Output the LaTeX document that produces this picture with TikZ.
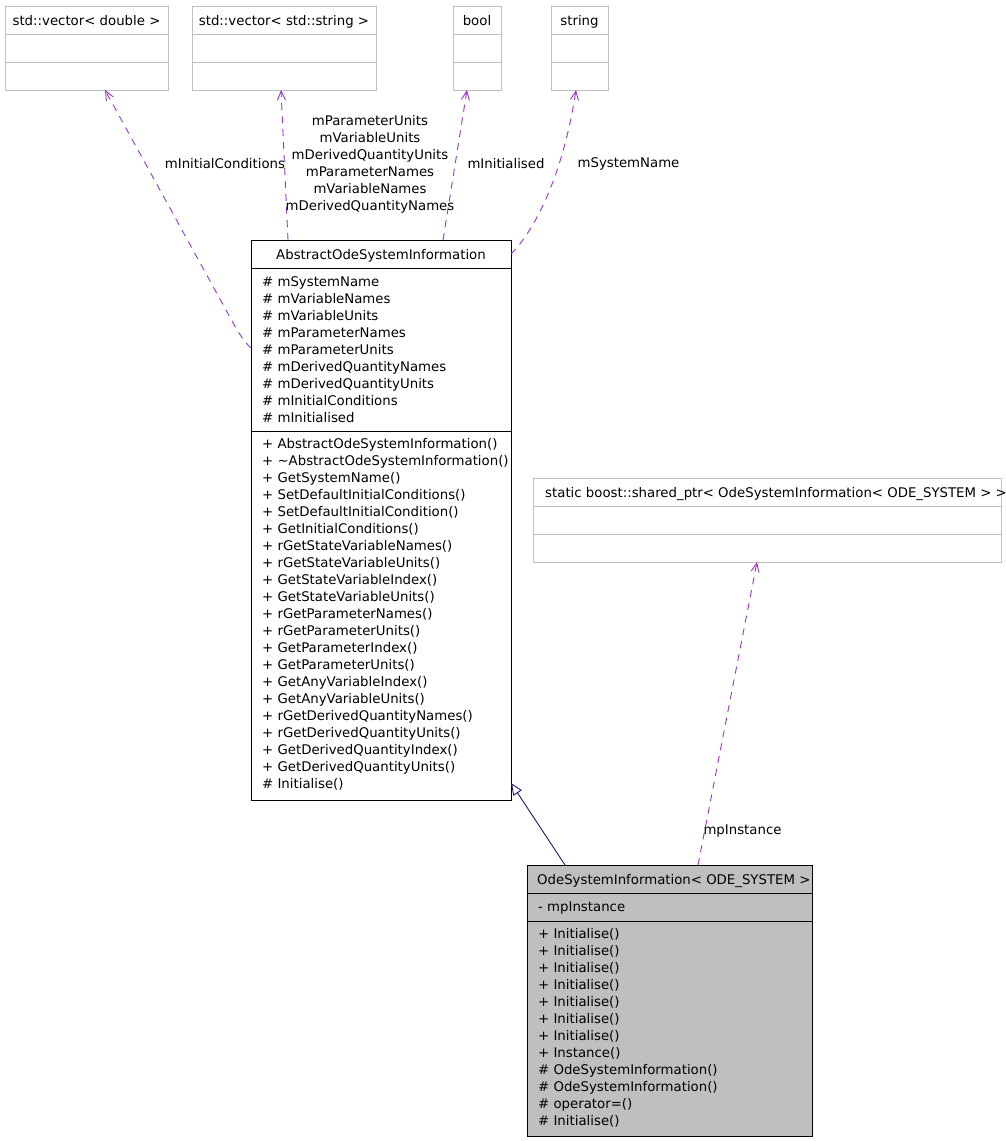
\documentclass[tikz,border=0pt]{standalone}
\usepackage{fontspec}
\setmainfont{DejaVu Sans}
\usepackage{xcolor}
\definecolor{umlgrey}{RGB}{191, 191, 191}
\definecolor{umlpurple}{RGB}{154, 50, 205}
\definecolor{umlnavy}{RGB}{25, 25, 112}
\usetikzlibrary{arrows.meta, calc}

\begin{document}
\begin{tikzpicture}[
    x=1pt, y=-1pt,
    font=\fontsize{13.3}{17}\selectfont,
    box/.style={rectangle, draw=#1, line width=0.9pt, inner sep=0pt, outer sep=0pt},
    ext/.style={box=umlgrey},
    ttl/.style={inner sep=0pt, text height=10pt, text depth=3pt, yshift=-1.5pt},
    mem/.style={ttl, anchor=west},
    lbl/.style={inner sep=0pt, align=center, yshift=-1pt},
    uses/.style={umlpurple, line width=0.9pt, dash pattern=on 7pt off 6pt, -{Straight Barb[length=9pt, width=8pt]}},
    isa/.style={umlnavy, line width=0.9pt, -{Triangle[open, length=12pt, width=10pt, fill=white]}}
]
\useasboundingbox (0,0) rectangle (1005,1141);

% Klassen ohne Mitglieder (oben)
\node[ext, minimum width=163pt, minimum height=84pt] (vdbl) at (86.5,48) {};
\node[ext, minimum width=184pt, minimum height=84pt] (vstr) at (284,48) {};
\node[ext, minimum width=48pt, minimum height=84pt] (bool) at (477,48) {};
\node[ext, minimum width=57pt, minimum height=84pt] (str) at (579.5,48) {};
\node[ext, minimum width=468pt, minimum height=84pt] (shptr) at (767,520) {};

\foreach \c in {vdbl, vstr, bool, str, shptr} {
    \draw[umlgrey, line width=0.9pt] ([yshift=-28pt]\c.north west) -- ([yshift=-28pt]\c.north east);
    \draw[umlgrey, line width=0.9pt] ([yshift=-56pt]\c.north west) -- ([yshift=-56pt]\c.north east);
}
\node[ttl] at ([yshift=-14pt]vdbl.north) {std::vector< double >};
\node[ttl] at ([yshift=-14pt]vstr.north) {std::vector< std::string >};
\node[ttl] at ([yshift=-14pt]bool.north) {bool};
\node[ttl] at ([yshift=-14pt]str.north) {string};
\node[mem] at (545,492) {static boost::shared\_ptr< OdeSystemInformation< ODE\_SYSTEM > >};

% AbstractOdeSystemInformation
\node[box=black, minimum width=260pt, minimum height=560pt] (abs) at (381,520) {};
\draw[line width=0.9pt] ([yshift=-28pt]abs.north west) -- ([yshift=-28pt]abs.north east);
\draw[line width=0.9pt] ([yshift=-191pt]abs.north west) -- ([yshift=-191pt]abs.north east);
\node[ttl] at ([yshift=-14pt]abs.north) {AbstractOdeSystemInformation};

\foreach \m [count=\i] in {\# mSystemName, \# mVariableNames, \# mVariableUnits,
    \# mParameterNames, \# mParameterUnits, \# mDerivedQuantityNames,
    \# mDerivedQuantityUnits, \# mInitialConditions, \# mInitialised} {
    \node[mem] at (262, 264+17*\i) {\m};
}
\foreach \m [count=\i] in {+ AbstractOdeSystemInformation(),
    + \textasciitilde{}AbstractOdeSystemInformation(), + GetSystemName(),
    + SetDefaultInitialConditions(), + SetDefaultInitialCondition(),
    + GetInitialConditions(), + rGetStateVariableNames(), + rGetStateVariableUnits(),
    + GetStateVariableIndex(), + GetStateVariableUnits(), + rGetParameterNames(),
    + rGetParameterUnits(), + GetParameterIndex(), + GetParameterUnits(),
    + GetAnyVariableIndex(), + GetAnyVariableUnits(), + rGetDerivedQuantityNames(),
    + rGetDerivedQuantityUnits(), + GetDerivedQuantityIndex(),
    + GetDerivedQuantityUnits(), \# Initialise()} {
    \node[mem] at (262, 426+17*\i) {\m};
}

% OdeSystemInformation< ODE_SYSTEM >
\node[box=black, fill=umlgrey, minimum width=285pt, minimum height=271pt] (ode) at (669.5,1000.5) {};
\draw[line width=0.9pt] ([yshift=-28pt]ode.north west) -- ([yshift=-28pt]ode.north east);
\draw[line width=0.9pt] ([yshift=-56pt]ode.north west) -- ([yshift=-56pt]ode.north east);
\node[mem] at (537,879) {OdeSystemInformation< ODE\_SYSTEM >};
\node[mem] at (538,906) {- mpInstance};

\foreach \m [count=\i] in {+ Initialise(), + Initialise(), + Initialise(), + Initialise(),
    + Initialise(), + Initialise(), + Initialise(), + Instance(),
    \# OdeSystemInformation(), \# OdeSystemInformation(), \# operator=(), \# Initialise()} {
    \node[mem] at (538, 916+17*\i) {\m};
}

% Verbindungen
\draw[uses] ([yshift=-108pt]abs.north west) .. controls (245,342) .. (237,330)
    -- ([xshift=100pt]vdbl.south west);
\draw[uses] ([xshift=37pt]abs.north west) -- ([xshift=89pt]vstr.south west);
\draw[uses] ([xshift=192pt]abs.north west) -- ([xshift=14pt]bool.south west);
\draw[uses] ([yshift=-14pt]abs.north east) .. controls (535,230) and (563,175)
    .. ([xshift=25pt]str.south west);
\draw[uses] ([xshift=171pt]ode.north west) -- ([xshift=224pt]shptr.south west);
\draw[isa] ([xshift=38pt]ode.north west) -- ([yshift=17pt]abs.south east);

% Beschriftungen
\node[lbl] (lInit) at (225,163) {mInitialConditions};
\node[lbl] (lVec) at (370,163.5) {mParameterUnits\\mVariableUnits\\mDerivedQuantityUnits\\mParameterNames\\mVariableNames\\mDerivedQuantityNames};
\node[lbl] (lBool) at (506,163) {mInitialised};
\node[lbl] (lName) at (628.5,163) {mSystemName};
\node[lbl] (lInst) at (742.5,830) {mpInstance};

\end{tikzpicture}
\end{document}
